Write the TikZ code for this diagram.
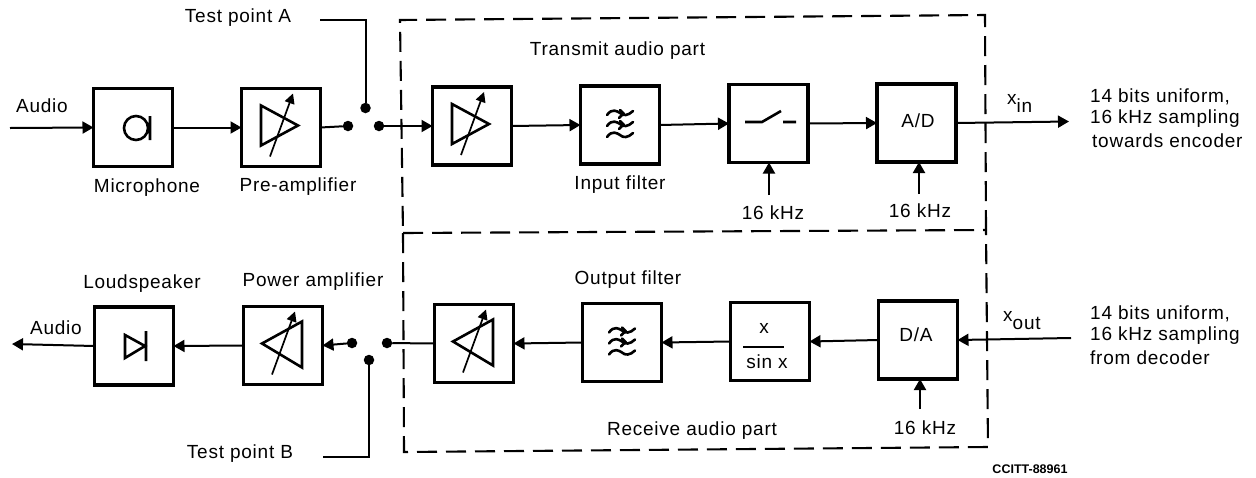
\documentclass[tikz,border=0pt]{standalone}
\usepackage{fontspec}
\setmainfont{Liberation Sans}
\usetikzlibrary{arrows.meta}
\newcommand{\lab}{\fontsize{19}{22}\selectfont\addfontfeature{LetterSpace=4}}
\newcommand{\ampL}[1]{\begin{scope}[shift={(#1)}]
 \draw[sym] (-20,-22)--(-20,18)--(17,-2)--cycle;
 \draw[thin1,-{Triangle[length=10,width=10]}] (-11,29)--(12,-34);
 \end{scope}}
\newcommand{\ampR}[1]{\begin{scope}[shift={(#1)}]
 \draw[sym] (-21,-2)--(19,-24)--(19,22)--cycle;
 \draw[thin1,-{Triangle[length=10,width=10]}] (-11,29)--(12,-34);
 \end{scope}}
\newcommand{\filt}[1]{\begin{scope}[shift={(#1)}]
 \foreach \y in {-12,-1,10}{\draw[thin2] (-13,\y+2) .. controls (-8,\y-5) and (-3,\y-2) .. (0,\y) .. controls (3,\y+3) and (8,\y+3) .. (13,\y-2);}
 \foreach \y in {-12,-1}{\draw[thin2] (0,\y-3) .. controls (1,\y-2) and (2,\y-1) .. (4,\y+1) (-1,\y+5) .. controls (0,\y+4) and (1,\y+3) .. (3,\y+1);}
 \end{scope}}
\tikzset{
 x=1pt,y=-1pt,
 box/.style={draw,line width=3.2pt,minimum width=79pt,minimum height=78pt,inner sep=0pt,outer sep=0pt,font=\lab},
 txt/.style={inner sep=0pt,font=\lab},
 tiny1/.style={inner sep=0pt,font=\fontsize{12.5}{14}\selectfont\bfseries},
 dot/.style={circle,fill=black,inner sep=0pt,minimum size=10.5pt,outer sep=0pt},
 sym/.style={line width=2.6pt,line join=miter},
 thin1/.style={line width=1.7pt},
 thin2/.style={line width=2.6pt,line cap=round},
 wire/.style={line width=2pt},
 arr/.style={wire,-{Triangle[length=11,width=12]}},
 part/.style={line width=2.1pt,dash pattern=on 20pt off 9pt},
}
\begin{document}
\begin{tikzpicture}
\useasboundingbox (0,0) rectangle (1256,477);
% boxes, top row
\node[box] (mic) at (133,127.5) {};
\node[box] (pre) at (281,127.5) {};
\node[box] (ta) at (472,126) {};
\node[box] (tf) at (620,125) {};
\node[box] (sw) at (768.5,123.5) {};
\node[box] (ad) at (916.5,123) {};
% bottom row
\node[box] (spk) at (134,346) {};
\node[box] (pa) at (283,345.5) {};
\node[box] (ra) at (474,343.5) {};
\node[box] (rf) at (622,342.5) {};
\node[box] (sx) at (770,341.5) {};
\node[box] (da) at (918,340) {};
\node[txt] (adt) at (918,121) {A/D};
\node[txt] (dat) at (916,335) {D/A};
% dots
\node[dot] (d1) at (348,126) {};
\node[dot] (d2) at (379,126) {};
\node[dot] (d3) at (365.5,108) {};
\node[dot] (d4) at (352,343) {};
\node[dot] (d5) at (387,343) {};
\node[dot] (d6) at (369,360) {};
% free ends
\coordinate (ain) at (10,128);
\coordinate (aout) at (12,344);
\coordinate (xi) at (1069,121.5);
\coordinate (xo) at (1071,338);
\coordinate (c1) at (769,195);
\coordinate (c2) at (919,194);
\coordinate (c3) at (920,409);
\coordinate (ta1) at (320,20);
\coordinate (ta2) at (365.5,20);
\coordinate (tb1) at (323,457);
\coordinate (tb2) at (369,457);
% dashed enclosure
\draw[part] (986,230) -- (985,15) -- (400,20) -- (403,233);
\draw[part] (403,233) -- (404,452) -- (988,447) -- (986,230);
\draw[part] (403,233) -- (986,230);
% connectors
\draw[arr] (ain) -- (mic.west);
\draw[arr] (mic.east) -- (pre.west);
\draw[wire] (pre.east) -- (d1);
\draw[arr] (d2) -- (ta.west);
\draw[arr] (ta.east) -- (tf.west);
\draw[arr] (tf.east) -- (sw.west);
\draw[arr] (sw.east) -- (ad.west);
\draw[arr] (ad.east) -- (xi);
\draw[arr] (c1) -- (sw.south -| c1);
\draw[arr] (c2) -- (ad.south -| c2);
\draw[arr] (c3) -- (da.south -| c3);
\draw[wire] (ta1) -- (ta2) -- (d3);
\draw[wire] (tb1) -- (tb2) -- (d6);
\draw[arr] (xo) -- (da.east);
\draw[arr] (da.west) -- (sx.east);
\draw[arr] (sx.west) -- (rf.east);
\draw[arr] (rf.west) -- (ra.east);
\draw[wire] (ra.west) -- (d5);
\draw[arr] (d4) -- (pa.east);
\draw[arr] (pa.west) -- (spk.east);
\draw[arr] (spk.west) -- (aout);
% symbols
\draw[line width=2.6pt] (136,128) circle (12) (150,116) -- (150,140);
\ampL{pre.center}
\ampL{ta.center}
\filt{tf.center}
\draw[sym] (745,122) -- (762,122) -- (781,111) (783,122) -- (796,122);
\draw[sym] (125,335) -- (125,358) -- (145,346) -- cycle (146,331) -- (146,361);
\ampR{pa.center}
\ampR{ra.center}
\filt{rf.center}
\node[txt] (sx1) at (764,328) {x};
\node[txt] (sx2) at (767,362) {sin x};
\draw[line width=2pt] (743,347) -- (784,347);
% labels
\node[txt] (t1) at (238,18) {Test point A};
\node[txt] (t2) at (42,106) {Audio};
\node[txt] (t3) at (147,188) {Microphone};
\node[txt] (t4) at (298,187) {Pre-amplifier};
\node[txt] (t5) at (617.5,51) {Transmit audio part};
\node[txt] (t6) at (620,185) {Input filter};
\node[txt] (t7) at (773,213) {16 kHz};
\node[txt] (t8) at (920,211) {16 kHz};
\node[txt,anchor=base west] (t9) at (1007,104) {x\raisebox{-8pt}{in}};
\node[txt,anchor=base west] (t10) at (1003,321) {x\raisebox{-8pt}{out}};
\node[txt,anchor=west] (t11) at (1090,97) {14 bits uniform,};
\node[txt,anchor=west] (t12) at (1090,119) {16 kHz sampling};
\node[txt,anchor=west] (t13) at (1092,141) {towards encoder};
\node[txt,anchor=west] (t14) at (1090,314) {14 bits uniform,};
\node[txt,anchor=west] (t15) at (1090,336) {16 kHz sampling};
\node[txt,anchor=west] (t16) at (1090,358) {from decoder};
\node[txt] (t17) at (142,284) {Loudspeaker};
\node[txt] (t18) at (313,282) {Power amplifier};
\node[txt] (t19) at (56,328) {Audio};
\node[txt] (t20) at (628,280) {Output filter};
\node[txt] (t21) at (692,431) {Receive audio part};
\node[txt] (t22) at (925,428) {16 kHz};
\node[txt] (t23) at (240,454) {Test point B};
\node[tiny1] (t24) at (1030,469) {CCITT-88961};
\end{tikzpicture}
\end{document}
